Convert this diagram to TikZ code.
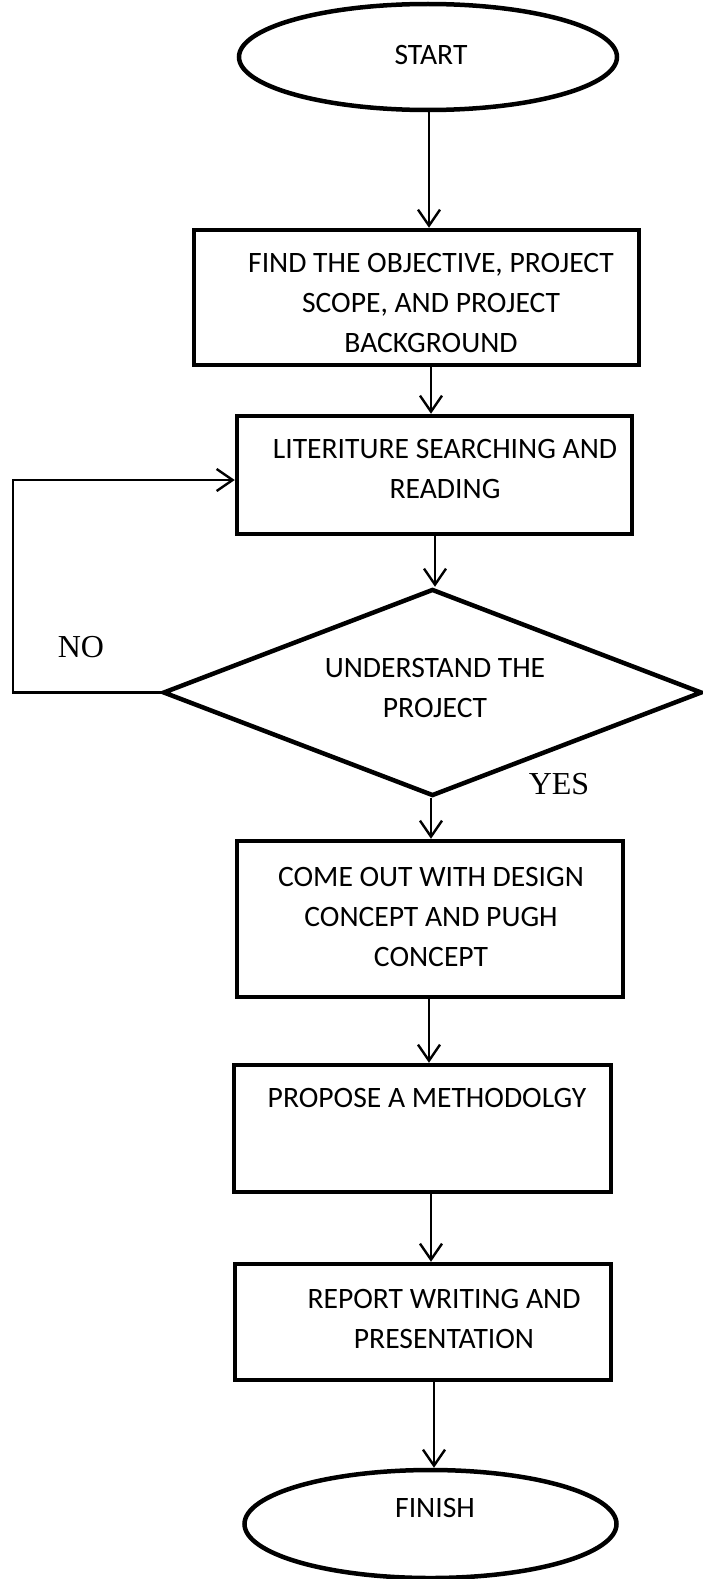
\documentclass[tikz,border=0pt]{standalone}
\usepackage{fontspec}
\setmainfont{Carlito}
\newfontfamily\timesf{Liberation Serif}
\usetikzlibrary{arrows.meta,shapes.geometric}
\begin{document}
\begin{tikzpicture}[x=1pt,y=-1pt,
  boxst/.style={draw,line width=4.5pt,rectangle,inner sep=0pt},
  ovalst/.style={draw,line width=4.5pt,ellipse,inner sep=0pt},
  txt/.style={align=center,font=\fontsize{29.6}{40}\selectfont,inner sep=0pt},
  yn/.style={font=\timesf\fontsize{32}{34}\selectfont,inner sep=0pt},
  arr/.style={line width=2.4pt,-{Straight Barb[length=16pt,width=22pt,line width=2.4pt]}}]
\useasboundingbox (0,0) rectangle (702,1579);
\fill[white] (0,0) rectangle (702,1579);
% shapes
\node[ovalst,minimum width=378pt,minimum height=106pt] (start) at (428,57) {};
\node[boxst,minimum width=445pt,minimum height=135pt] (b1) at (416.5,297.5) {};
\node[boxst,minimum width=395pt,minimum height=118pt] (b2) at (434.5,475) {};
\node[draw,line width=4.5pt,diamond,inner sep=0pt,minimum width=539pt,minimum height=207pt] (dec) at (432.5,692.5) {};
\node[boxst,minimum width=386pt,minimum height=156pt] (b3) at (430,919) {};
\node[boxst,minimum width=377pt,minimum height=127pt] (b4) at (422.5,1128.5) {};
\node[boxst,minimum width=376pt,minimum height=116pt] (b5) at (423,1322) {};
\node[ovalst,minimum width=372pt,minimum height=108pt] (fin) at (430.5,1524) {};
% texts
\node[txt] (t0) at (431,55) {START};
\node[txt] (t1) at (431,303) {FIND THE OBJECTIVE, PROJECT\\SCOPE, AND PROJECT\\BACKGROUND};
\node[txt] (t2) at (445,468.5) {LITERITURE SEARCHING AND\\READING};
\node[txt] (td) at (435,687.5) {UNDERSTAND THE\\PROJECT};
\node[txt] (t3) at (431,917) {COME OUT WITH DESIGN\\CONCEPT AND PUGH\\CONCEPT};
\node[txt] (t4) at (427,1098) {PROPOSE A METHODOLGY};
\node[txt] (t5) at (444,1318.5) {REPORT WRITING AND\\PRESENTATION};
\node[txt] (tf) at (435,1508) {FINISH};
\node[yn] (no) at (81,647) {NO};
\node[yn] (yes) at (559,784) {YES};
% connectors
\draw[arr] (start.south -| 429,0) -- (b1.north -| 429,0);
\draw[arr] (b1.south -| 431,0) -- (b2.north -| 431,0);
\draw[arr] (b2.south -| 435,0) -- (dec.north -| 435,0);
\draw[arr] (dec.south -| 431,0) -- (b3.north -| 431,0);
\draw[arr] (b3.south -| 429,0) -- (b4.north -| 429,0);
\draw[arr] (b4.south -| 431,0) -- (b5.north -| 431,0);
\draw[arr] (b5.south -| 434,0) -- (fin.north -| 434,0);
\coordinate (lp) at (13,480);
\draw[arr] (dec.west) -| (lp) -- (b2.west |- lp);
\end{tikzpicture}
\end{document}
